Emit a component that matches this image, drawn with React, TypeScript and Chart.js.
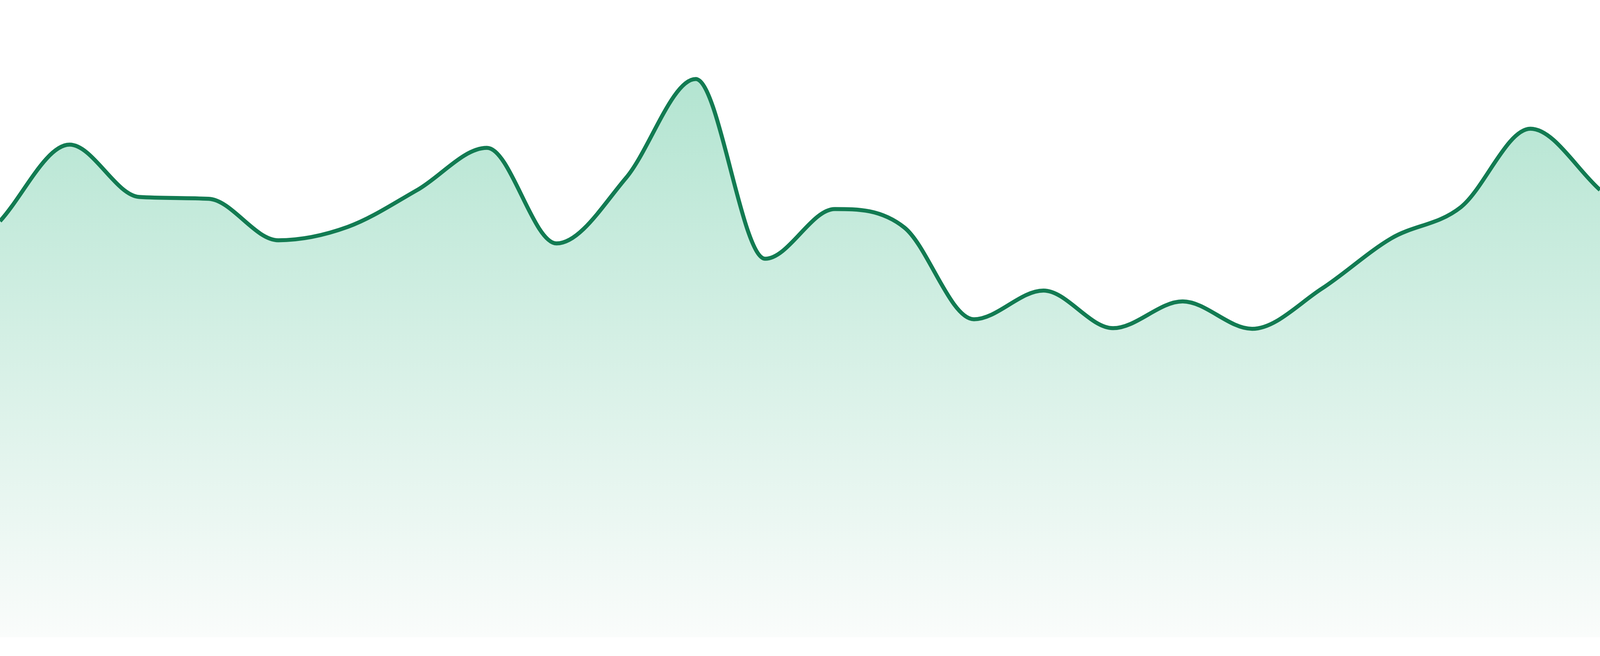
import React, { useEffect, useRef } from "react";
import { Chart, registerables } from "chart.js";

Chart.register(...registerables);

const categories: string[] = [
  "00:00", "01:00", "02:00", "03:00", "04:00", "05:00", "06:00", "07:00",
  "08:00", "09:00", "10:00", "11:00", "12:00", "13:00", "14:00", "15:00",
  "16:00", "17:00", "18:00", "19:00", "20:00", "21:00", "22:00", "23:00",
];

const seriesValues: number[] = [
  65.3, 77.3, 69.1, 68.8, 62.3, 64.4, 70.2, 76.8,
  61.8, 72.1, 87.6, 59.4, 67.2, 64.3, 49.9, 54.4,
  48.5, 52.7, 48.4, 54.7, 62.6, 67.5, 79.8, 70.2,
];

const yMin = 0;
const yMax = 100;

export default function App() {
  const wrapRef = useRef<HTMLDivElement | null>(null);
  const canvasRef = useRef<HTMLCanvasElement | null>(null);

  useEffect(() => {
    if (!canvasRef.current || !wrapRef.current) return;
    const w = wrapRef.current.clientWidth || window.innerWidth;
    const h = wrapRef.current.clientHeight || window.innerHeight;
    const sx = w / 4800;
    const sy = h / 1680;
    const chart = new Chart(canvasRef.current, {
      type: "line",
      data: {
        labels: categories,
        datasets: [
          {
            data: seriesValues,
            borderColor: "#127b52",
            borderWidth: 12 * sx,
            pointRadius: 0,
            pointHoverRadius: 0,
            cubicInterpolationMode: "monotone",
            fill: "start",
            backgroundColor: (ctx: any) => {
              const { chart } = ctx;
              const area = chart.chartArea;
              if (!area) return "rgba(178,229,208,0.5)";
              const g = chart.ctx.createLinearGradient(0, area.top, 0, area.bottom);
              g.addColorStop(0, "#a9e1cb");
              g.addColorStop(1, "#fafcfb");
              return g;
            },
          },
        ],
      },
      options: {
        animation: false,
        responsive: true,
        maintainAspectRatio: false,
        layout: { padding: { left: 0, right: 0, top: 0, bottom: 48 * sy } },
        plugins: {
          legend: { display: false },
          tooltip: { enabled: false },
          title: { display: false },
        },
        scales: {
          x: { display: false, offset: false },
          y: { display: false, min: yMin, max: yMax },
        },
      },
    });
    return () => chart.destroy();
  }, []);

  return (
    <>
      <style>{`html,body{margin:0;padding:0;overflow:hidden;}`}</style>
      <div
        ref={wrapRef}
        style={{ position: "fixed", left: 0, top: 0, width: "100vw", height: "100vh", background: "#ffffff" }}
      >
        <canvas ref={canvasRef} />
      </div>
    </>
  );
}
